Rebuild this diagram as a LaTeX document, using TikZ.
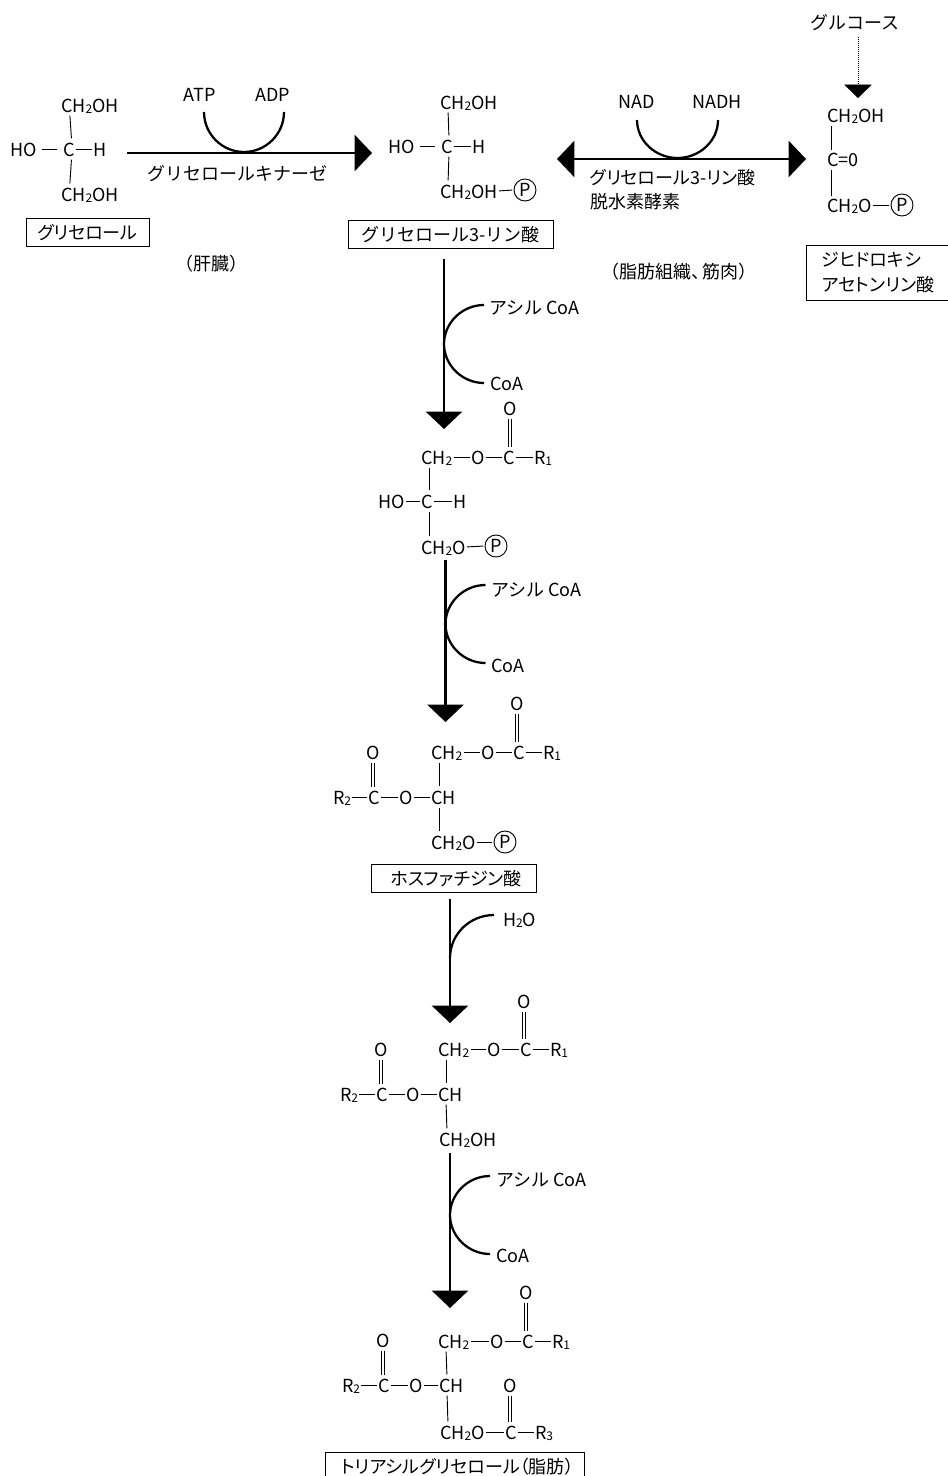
\documentclass[tikz,border=0pt]{standalone}
\usepackage{fontspec}
\setmainfont{Noto Sans CJK JP}
\usetikzlibrary{arrows.meta,calc}
\newcommand{\subn}[1]{\raisebox{-1pt}{\fontsize{9pt}{9pt}\selectfont #1}}
\newcommand{\pltext}{\addfontfeature{RawFeature=+palt}}

\begin{document}
\begin{tikzpicture}[
    x=0.75pt, y=-0.75pt,
    font=\fontsize{13.5pt}{16pt}\selectfont,
    atom/.style={anchor=west, inner sep=0pt, outer sep=0pt, text height=11pt, text depth=0pt},
    lbl/.style={inner sep=0pt, outer sep=0pt, text height=11pt, text depth=0pt},
    phos/.style={draw, circle, line width=0.7pt, inner sep=0pt, minimum size=16.5pt},
    namebox/.style={draw, line width=0.7pt, inner sep=0pt, minimum height=21pt, text height=11pt, text depth=0pt},
    hbond/.style={line width=0.7pt, shorten <=1pt, shorten >=1pt},
    vbond/.style={line width=0.7pt, shorten <=2.5pt, shorten >=2.5pt},
    dbond/.style={line width=0.7pt, shorten <=2.5pt, shorten >=2pt},
    arrow/.style={-{Triangle[length=13pt,width=27pt]}, line width=1.9pt},
    curve/.style={line width=1.7pt}
]
\path[use as bounding box, clip] (0,0) rectangle (948,1476);

% Glycerol
\node[atom] (ga) at (61,105) {CH\subn{2}OH};
\node[atom] (gh) at (10,149) {HO};
\node[atom] (gc) at (63,149) {C};
\node[atom] (gi) at (93,149) {H};
\node[atom] (gb) at (61,194) {CH\subn{2}OH};
\node[namebox, minimum width=92.25pt] (gn) at (87.5,232) {\pltext グリセロール};
\foreach \i/\j in {ga/gc, gc/gb}
  \draw[vbond] ([xshift=6.5pt]\i.south west) -- ([xshift=6.5pt]\j.north west);
\draw[hbond, shorten <=4.5pt, shorten >=4.5pt] (gh.east) -- (gc.west);
\draw[hbond] (gc.east) -- (gi.west);

% Glycerol kinase
\node[lbl] (atp) at (200,94) {ATP};
\node[lbl] (adp) at (273,94) {ADP};
\node[lbl] (gk) at (237,173) {グリセロールキナーゼ};
\node[lbl] (liver) at (211,263) {（肝臓）};
\coordinate (ks) at (127,153);
\coordinate (ke) at (372,153);
\coordinate (kin) at (204,112);
\coordinate (kmid) at (244,152);
\coordinate (kout) at (284,112);
\draw[arrow] (ks) -- (ke);
\draw[curve] (kin) .. controls +(0,22) and +(-22,0) .. (kmid) .. controls +(22,0) and +(0,22) .. (kout);

% Glycerol 3-phosphate
\node[atom] (ha) at (440,102) {CH\subn{2}OH};
\node[atom] (hh) at (388,146) {HO};
\node[atom] (hc) at (441,146) {C};
\node[atom] (hi) at (472,146) {H};
\node[atom] (hb) at (440,191) {CH\subn{2}OH};
\node[phos] (hp) at (525,190) {P};
\node[namebox, minimum width=153.75pt] (hn) at (450.5,234) {グリセロール3-リン酸};
\foreach \i/\j in {ha/hc, hc/hb}
  \draw[vbond] ([xshift=6pt]\i.south west) -- ([xshift=6pt]\j.north west);
\draw[hbond, shorten <=4.5pt, shorten >=4.5pt] (hh.east) -- (hc.west);
\draw[hbond] (hc.east) -- (hi.west);
\draw[hbond] (hb.east) -- (hp.west);

% Dehydrogenase
\node[lbl] (nad) at (637,101) {NAD};
\node[lbl] (nadh) at (717,101) {NADH};
\node[lbl, anchor=west] (de1) at (590,177) {\pltext グリセロール3-リン酸};
\node[lbl, anchor=west] (de2) at (590,201) {脱水素酵素};
\node[lbl] (fat) at (679,271) {（脂肪組織、\kern-.4em 筋肉）};
\coordinate (ds) at (557,159);
\coordinate (de) at (806,159);
\coordinate (nin) at (637,120);
\coordinate (nmid) at (677.5,158);
\coordinate (nout) at (718,120);
\draw[{Triangle[length=13pt,width=27pt]}-{Triangle[length=13pt,width=27pt]}, line width=1.9pt] (ds) -- (de);
\draw[curve] (nin) .. controls +(0,21) and +(-22,0) .. (nmid) .. controls +(22,0) and +(0,21) .. (nout);

% Dihydroxyacetone phosphate
\node[lbl] (glc) at (855,22) {グルコース};
\coordinate (gs) at (858,37);
\coordinate (ge) at (858,98);
\draw[densely dotted, line width=0.5pt, -{Triangle[length=10pt,width=20.5pt]}] (gs) -- (ge);
\node[atom] (ka) at (827,115) {CH\subn{2}OH};
\node[atom] (kc) at (827,159) {C=0};
\node[atom] (kb) at (827,205) {CH\subn{2}O};
\node[phos] (kp) at (902,205) {P};
\node[draw, line width=0.7pt, inner sep=0pt, minimum width=108pt, minimum height=41.25pt, align=left] (kn) at (878,272.5) {\pltext ジヒドロキシ\\[2.75pt]\pltext アセトンリン酸};
\foreach \i/\j in {ka/kc, kc/kb}
  \draw[vbond, shorten <=2.5pt, shorten >=1pt] ([xshift=3.5pt]\i.south west) -- ([xshift=3.5pt]\j.north west);
\draw[hbond] (kb.east) -- (kp.west);

% Main pathway arrows
\foreach \i/\x/\ya/\yb in {1/444/259/429, 2/445.5/560/722, 3/450/899/1023, 4/450/1153/1308} {
  \coordinate (vs\i) at (\x,\ya);
  \coordinate (ve\i) at (\x,\yb);
  \draw[arrow] (vs\i) -- (ve\i);
}

% Acyl CoA
\foreach \i/\x/\y in {1/444/344, 2/445.5/624, 4/450/1215} {
  \coordinate (cin\i) at (\x+40,\y-39);
  \coordinate (cmid\i) at (\x,\y);
  \coordinate (cout\i) at (\x+40,\y+39);
  \draw[curve] (cin\i) .. controls +(-22,0) and +(0,-21) .. (cmid\i) .. controls +(0,21) and +(-22,0) .. (cout\i);
}
\node[atom] (ac1) at (489,307) {アシル CoA};
\node[atom] (co1) at (490,383) {CoA};
\node[atom] (ac2) at (491,589) {アシル CoA};
\node[atom] (co2) at (491,665) {CoA};
\node[atom] (ac4) at (496,1179) {アシル CoA};
\node[atom] (co4) at (496,1255) {CoA};

% Water
\coordinate (win) at (494,915);
\coordinate (wout) at (450,958);
\draw[curve] (win) .. controls +(-24,0) and +(0,-24) .. (wout);
\node[atom] (wat) at (503,919) {H\subn{2}O};

% Lysophosphatidic acid
\node[atom] (bt) at (503,408) {O};
\node[atom] (ba) at (421,457) {CH\subn{2}};
\node[atom] (bo) at (471,457) {O};
\node[atom] (bc) at (503,457) {C};
\node[atom] (br) at (534,457) {R\subn{1}};
\node[atom] (bh) at (378,501) {HO};
\node[atom] (bd) at (421,501) {C};
\node[atom] (bi) at (453,501) {H};
\node[atom] (bb) at (421,547) {CH\subn{2}O};
\node[phos] (bp) at (496,546) {P};
\foreach \i/\j in {ba/bo, bo/bc, bc/br, bh/bd, bd/bi, bb/bp}
  \draw[hbond] (\i.east) -- (\j.west);
\foreach \i/\j in {ba/bd, bd/bb}
  \draw[vbond] ([xshift=6pt]\i.south west) -- ([xshift=6pt]\j.north west);
\foreach \s in {-1.2pt,1.2pt}
  \draw[dbond] ([xshift=\s]bt.south) -- ([xshift=\s]bt.south |- bc.north);

% Phosphatidic acid
\node[atom] (ct) at (510,703) {O};
\node[atom] (ca) at (431,752) {CH\subn{2}};
\node[atom] (co) at (481,752) {O};
\node[atom] (cc) at (513,752) {C};
\node[atom] (cr) at (543,752) {R\subn{1}};
\node[atom] (cu) at (366,752) {O};
\node[atom] (cs) at (333,797) {R\subn{2}};
\node[atom] (cl) at (368,797) {C};
\node[atom] (cm) at (399,797) {O};
\node[atom] (cd) at (431,797) {CH};
\node[atom] (cb) at (431,842) {CH\subn{2}O};
\node[phos] (cp) at (505,842) {P};
\node[namebox, minimum width=123.75pt] (cn) at (453.5,878.5) {\pltext\kern4pt ホスファチジン酸};
\foreach \i/\j in {ca/co, co/cc, cc/cr, cs/cl, cl/cm, cm/cd, cb/cp}
  \draw[hbond] (\i.east) -- (\j.west);
\foreach \i/\j in {ca/cd, cd/cb}
  \draw[vbond] ([xshift=6pt]\i.south west) -- ([xshift=6pt]\j.north west);
\foreach \s in {-1.2pt,1.2pt}
  \foreach \i/\j in {ct/cc, cu/cl}
    \draw[dbond] ([xshift=\s]\i.south) -- ([xshift=\s]\i.south |- \j.north);

% Diacylglycerol
\node[atom] (dt) at (517,1001) {O};
\node[atom] (da) at (438,1049) {CH\subn{2}};
\node[atom] (do) at (487,1049) {O};
\node[atom] (dc) at (520,1049) {C};
\node[atom] (dr) at (550,1049) {R\subn{1}};
\node[atom] (du) at (374,1049) {O};
\node[atom] (ds) at (340,1094) {R\subn{2}};
\node[atom] (dl) at (376,1094) {C};
\node[atom] (dm) at (406,1094) {O};
\node[atom] (dd) at (438,1094) {CH};
\node[atom] (db) at (439,1139) {CH\subn{2}OH};
\foreach \i/\j in {da/do, do/dc, dc/dr, ds/dl, dl/dm, dm/dd}
  \draw[hbond] (\i.east) -- (\j.west);
\foreach \i/\j in {da/dd, dd/db}
  \draw[vbond] ([xshift=6pt]\i.south west) -- ([xshift=6pt]\j.north west);
\foreach \s in {-1.2pt,1.2pt}
  \foreach \i/\j in {dt/dc, du/dl}
    \draw[dbond] ([xshift=\s]\i.south) -- ([xshift=\s]\i.south |- \j.north);

% Triacylglycerol
\node[atom] (et) at (519,1292) {O};
\node[atom] (ea) at (438,1341) {CH\subn{2}};
\node[atom] (eo) at (490,1341) {O};
\node[atom] (ec) at (522,1341) {C};
\node[atom] (er) at (552,1341) {R\subn{1}};
\node[atom] (eu) at (376,1340) {O};
\node[atom] (es) at (342,1385) {R\subn{2}};
\node[atom] (el) at (378,1385) {C};
\node[atom] (em) at (409,1385) {O};
\node[atom] (ed) at (439,1385) {CH};
\node[atom] (eh) at (503,1385) {O};
\node[atom] (eb) at (440,1432) {CH\subn{2}O};
\node[atom] (ef) at (505,1432) {C};
\node[atom] (eg) at (535,1432) {R\subn{3}};
\node[namebox, minimum width=194.25pt] (en) at (454.5,1466) {\pltext\kern4.5pt トリアシルグリセロール（脂肪）};
\foreach \i/\j in {ea/eo, eo/ec, ec/er, es/el, el/em, em/ed, eb/ef, ef/eg}
  \draw[hbond] (\i.east) -- (\j.west);
\foreach \i/\j in {ea/ed, ed/eb}
  \draw[vbond] ([xshift=6pt]\i.south west) -- ([xshift=6pt]\j.north west);
\foreach \s in {-1.2pt,1.2pt}
  \foreach \i/\j in {et/ec, eu/el, eh/ef}
    \draw[dbond] ([xshift=\s]\i.south) -- ([xshift=\s]\i.south |- \j.north);

\end{tikzpicture}
\end{document}
